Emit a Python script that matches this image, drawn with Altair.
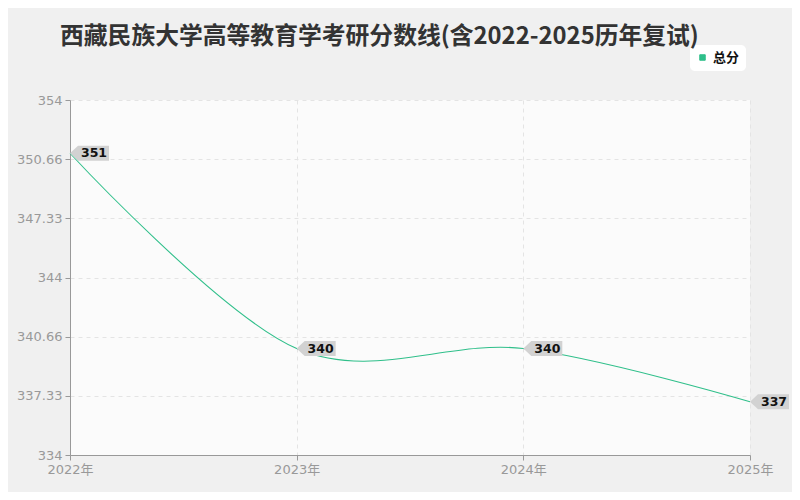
import altair as alt
import pandas as pd

years = [2022, 2023, 2024, 2025]
scores = [351, 340, 340, 337]
series = ["总分", "总分", "总分", "总分"]
y_ticks = [334, 337.33, 340.66, 344, 347.33, 350.66, 354]
x_ticks = [2022, 2023, 2024, 2025]
title_text = "西藏民族大学高等教育学考研分数线(含2022-2025历年复试)"

df = pd.DataFrame({"year": years, "score": scores, "series": series})

FONT = "Noto Sans CJK SC"
AXFONT = "DejaVu Sans, Noto Sans CJK SC"
GREEN = "#2fbf8a"

x_enc = alt.X(
    "year:Q",
    scale=alt.Scale(domain=[2022, 2025], nice=False, zero=False),
    axis=alt.Axis(
        values=x_ticks,
        labelExpr="datum.value + '年'",
        title=None,
        grid=True,
        gridDash=[4, 4],
        gridColor="#e4e4e4",
        domainColor="#999999",
        tickColor="#999999",
        tickSize=5,
        labelColor="#999999",
        labelFontSize=13,
        labelFont=AXFONT,
        labelFlush=False,
        labelPadding=3,
    ),
)
y_enc = alt.Y(
    "score:Q",
    scale=alt.Scale(domain=[334, 354], nice=False, zero=False),
    axis=alt.Axis(
        values=y_ticks,
        labelExpr="format(datum.value, '.2~f')",
        title=None,
        grid=True,
        gridDash=[4, 4],
        gridColor="#e4e4e4",
        domainColor="#999999",
        tickColor="#999999",
        tickSize=5,
        labelColor="#999999",
        labelFontSize=13,
        labelFont=AXFONT,
        labelFlush=False,
        labelPadding=3,
    ),
)

line = alt.Chart(df).mark_line(
    interpolate="cardinal", strokeWidth=1.1
).encode(
    x=x_enc,
    y=y_enc,
    color=alt.Color(
        "series:N",
        scale=alt.Scale(domain=["总分"], range=[GREEN]),
        legend=alt.Legend(
            title=None,
            orient="none",
            legendX=620,
            legendY=-55,
            symbolType="square",
            symbolSize=30,
            symbolFillColor=GREEN,
            symbolStrokeColor=GREEN,
            symbolStrokeWidth=1,
            symbolOpacity=1,
            labelFontSize=13,
            labelFont=FONT,
            labelFontWeight="bold",
            labelColor="#111111",
            fillColor="#ffffff",
            cornerRadius=5,
            padding=6,
        ),
    ),
)

callout = "M0,0 L0.4,-0.375 L1.95,-0.375 L1.95,0.375 L0.4,0.375 Z"
boxes = alt.Chart(df).mark_point(
    shape=callout, size=1600, filled=True, fill="#d2d2d2", opacity=1, strokeWidth=0
).encode(x="year:Q", y="score:Q")

texts = alt.Chart(df).mark_text(
    align="center", baseline="middle", dx=24, dy=0,
    fontSize=12.5, fontWeight="bold", font="DejaVu Sans", color="#111111"
).encode(x="year:Q", y="score:Q", text="score:Q")

chart = alt.layer(line, boxes, texts).properties(
    width=680,
    height=355,
    background="#f0f0f0",
    padding={"left": 62, "top": 92, "right": 42, "bottom": 37},
    autosize=alt.AutoSizeParams(type="none"),
    title=alt.TitleParams(
        text=title_text,
        anchor="start",
        frame="group",
        dx=-10,
        offset=0,
        dy=4,
        fontSize=23.8,
        font=FONT,
        fontWeight="bold",
        color="#333333",
    ),
).configure_view(
    fill="#fbfbfb", stroke=None
)

chart.save("out.html", embed_options={"renderer": "svg", "actions": False})
